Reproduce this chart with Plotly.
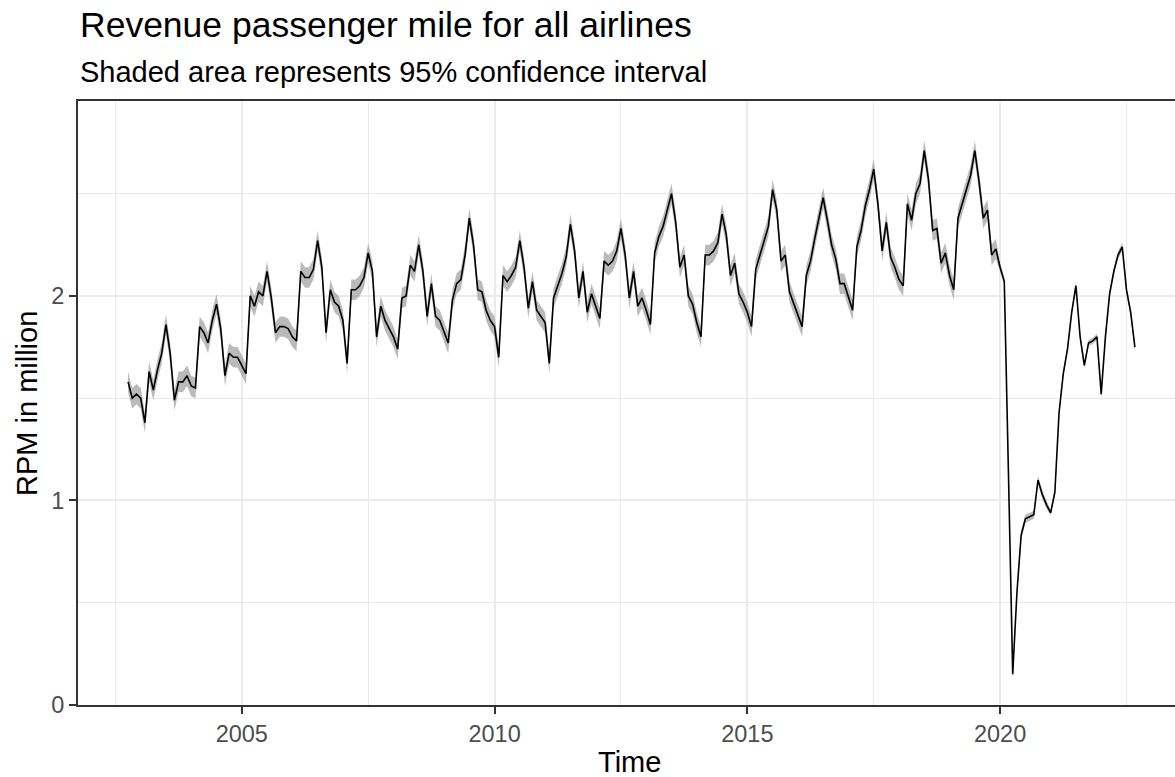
import plotly.graph_objects as go

# Monthly revenue passenger miles, Oct 2002 - Sep 2022
start_year = 2002
start_month = 10
rpm_2002 = [1.58, 1.50, 1.52]
rpm_2003 = [1.50, 1.38, 1.63, 1.54, 1.64, 1.72, 1.86, 1.72, 1.49, 1.58, 1.58, 1.61]
rpm_2004 = [1.56, 1.55, 1.85, 1.82, 1.77, 1.88, 1.96, 1.84, 1.61, 1.72, 1.70, 1.70]
rpm_2005 = [1.66, 1.62, 2.00, 1.95, 2.02, 2.00, 2.12, 1.99, 1.82, 1.85, 1.85, 1.84]
rpm_2006 = [1.80, 1.78, 2.12, 2.09, 2.09, 2.13, 2.27, 2.14, 1.82, 2.03, 1.97, 1.95]
rpm_2007 = [1.88, 1.67, 2.03, 2.03, 2.05, 2.09, 2.21, 2.12, 1.80, 1.95, 1.88, 1.84]
rpm_2008 = [1.80, 1.74, 1.99, 2.00, 2.15, 2.12, 2.25, 2.12, 1.90, 2.06, 1.90, 1.88]
rpm_2009 = [1.82, 1.77, 1.98, 2.06, 2.08, 2.20, 2.38, 2.25, 2.03, 2.02, 1.93, 1.88]
rpm_2010 = [1.85, 1.70, 2.10, 2.07, 2.10, 2.14, 2.27, 2.14, 1.94, 2.07, 1.93, 1.90]
rpm_2011 = [1.87, 1.67, 1.99, 2.05, 2.11, 2.19, 2.35, 2.22, 1.99, 2.12, 1.92, 2.01]
rpm_2012 = [1.95, 1.89, 2.17, 2.15, 2.17, 2.22, 2.33, 2.20, 1.99, 2.12, 1.95, 1.99]
rpm_2013 = [1.93, 1.86, 2.21, 2.29, 2.34, 2.42, 2.50, 2.36, 2.14, 2.20, 2.00, 1.96]
rpm_2014 = [1.87, 1.80, 2.20, 2.20, 2.22, 2.26, 2.40, 2.30, 2.10, 2.16, 2.01, 1.97]
rpm_2015 = [1.92, 1.85, 2.13, 2.20, 2.27, 2.34, 2.52, 2.42, 2.17, 2.20, 2.02, 1.96]
rpm_2016 = [1.90, 1.85, 2.10, 2.17, 2.28, 2.38, 2.48, 2.37, 2.25, 2.18, 2.06, 2.06]
rpm_2017 = [2.00, 1.93, 2.24, 2.32, 2.44, 2.52, 2.62, 2.45, 2.22, 2.36, 2.19, 2.14]
rpm_2018 = [2.08, 2.05, 2.45, 2.37, 2.50, 2.55, 2.71, 2.57, 2.32, 2.33, 2.16, 2.21]
rpm_2019 = [2.10, 2.03, 2.38, 2.45, 2.53, 2.59, 2.71, 2.56, 2.38, 2.42, 2.20, 2.23]
rpm_2020 = [2.14, 2.07, 1.12, 0.15, 0.55, 0.83, 0.91, 0.92, 0.93, 1.10, 1.03, 0.98]
rpm_2021 = [0.94, 1.04, 1.43, 1.62, 1.74, 1.92, 2.05, 1.80, 1.66, 1.77, 1.78, 1.80]
rpm_2022 = [1.52, 1.80, 2.01, 2.12, 2.20, 2.24, 2.03, 1.92, 1.75]

# half-width of the 95% confidence band, per year 2002..2022
ci_years = list(range(2002, 2023))
ci_half = [0.05, 0.05, 0.05, 0.05, 0.05, 0.05, 0.05, 0.05, 0.05, 0.05,
           0.05, 0.05, 0.05, 0.05, 0.05, 0.05, 0.05, 0.05, 0.02, 0.015, 0.02]

x_ticks = [2005, 2010, 2015, 2020]
x_minor = [2002.5, 2007.5, 2012.5, 2017.5, 2022.5]
y_ticks = [0, 1, 2]
y_minor = [0.5, 1.5, 2.5]

year_lists = [rpm_2002, rpm_2003, rpm_2004, rpm_2005, rpm_2006, rpm_2007, rpm_2008,
              rpm_2009, rpm_2010, rpm_2011, rpm_2012, rpm_2013, rpm_2014, rpm_2015,
              rpm_2016, rpm_2017, rpm_2018, rpm_2019, rpm_2020, rpm_2021, rpm_2022]

t, y, lo, hi = [], [], [], []
for i, vals in enumerate(year_lists):
    yr = 2002 + i
    m0 = start_month if yr == start_year else 1
    half = ci_half[ci_years.index(yr)]
    for j, v in enumerate(vals):
        t.append(yr + (m0 - 1 + j) / 12.0)
        y.append(v)
        lo.append(v - half)
        hi.append(v + half)

FONT = "Liberation Sans, Arial, sans-serif"
fig = go.Figure()
fig.add_trace(go.Scatter(x=t, y=hi, mode="lines", line=dict(width=0),
                         showlegend=False, hoverinfo="skip"))
fig.add_trace(go.Scatter(x=t, y=lo, mode="lines", line=dict(width=0),
                         fill="tonexty", fillcolor="rgba(140,140,140,0.6)",
                         showlegend=False, hoverinfo="skip"))
fig.add_trace(go.Scatter(x=t, y=y, mode="lines", line=dict(color="black", width=1.6),
                         showlegend=False))

axis_common = dict(
    showgrid=True, gridcolor="#EBEBEB", gridwidth=1.5, zeroline=False,
    showline=True, linecolor="#333333", linewidth=2,
    ticks="outside", ticklen=7, tickwidth=1.6, tickcolor="#333333",
    tickfont=dict(family=FONT, size=23.5, color="#4D4D4D"),
)
fig.update_layout(
    width=1175, height=777,
    margin=dict(l=78, r=0, t=101, b=72, pad=0),
    paper_bgcolor="white", plot_bgcolor="white",
    font=dict(family=FONT, color="black"),
    xaxis=dict(range=[2001.76, 2023.46], tickvals=x_ticks,
               ticktext=[str(v) for v in x_ticks], mirror=True,
               minor=dict(tickvals=x_minor, showgrid=True, gridcolor="#EBEBEB",
                          gridwidth=0.9, ticks=""),
               **axis_common),
    yaxis=dict(range=[0, 2.953], tickvals=y_ticks,
               ticktext=[str(v) for v in y_ticks], mirror=False,
               minor=dict(tickvals=y_minor, showgrid=True, gridcolor="#EBEBEB",
                          gridwidth=0.9, ticks=""),
               **axis_common),
    annotations=[
        dict(text="Revenue passenger mile for all airlines", xref="paper", yref="paper",
             x=0, y=1.1252, xanchor="left", yanchor="middle", showarrow=False,
             font=dict(family=FONT, size=35.5, color="black")),
        dict(text="Shaded area represents 95% confidence interval", xref="paper", yref="paper",
             x=0, y=1.0472, xanchor="left", yanchor="middle", showarrow=False,
             font=dict(family=FONT, size=29, color="black")),
        dict(text="Time", xref="paper", yref="paper", x=0.5023, y=-0.0944,
             xanchor="center", yanchor="middle", showarrow=False,
             font=dict(family=FONT, size=29, color="black")),
        dict(text="RPM in million", xref="paper", yref="paper", x=-0.0465, y=0.5,
             xanchor="center", yanchor="middle", textangle=-90, showarrow=False,
             font=dict(family=FONT, size=29, color="black")),
    ],
)

fig.write_html("out.html")
